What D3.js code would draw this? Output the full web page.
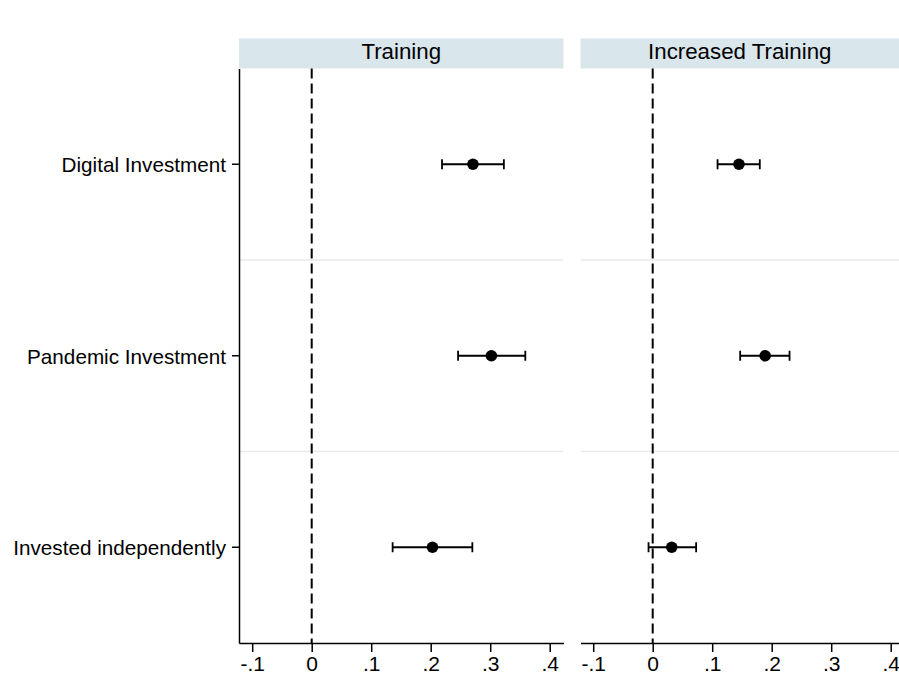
<!DOCTYPE html>
<html><head><meta charset="utf-8">
<script src="https://cdn.jsdelivr.net/npm/d3@7"></script>
<style>body{margin:0;background:#fff}svg{display:block}text{font-family:"Liberation Sans",Arial,sans-serif}</style>
</head><body>
<script>
const categories = ["Digital Investment","Pandemic Investment","Invested independently"];
const panels = ["Training","Increased Training"];
const trainingEst = [0.271, 0.302, 0.203];
const trainingLo  = [0.219, 0.246, 0.136];
const trainingHi  = [0.323, 0.359, 0.270];
const incEst = [0.145, 0.189, 0.032];
const incLo  = [0.109, 0.147, -0.007];
const incHi  = [0.180, 0.230, 0.073];
const xTicks = [-0.1, 0, 0.1, 0.2, 0.3, 0.4];
const xTickLabels = ["-.1","0",".1",".2",".3",".4"];

const W = 899, H = 677;
const FONT = '"Liberation Sans",Arial,sans-serif';
const svg = d3.select("body").append("svg").attr("width", W).attr("height", H);

const plotTop = 68.5, plotBottom = 643;
const y = d3.scaleBand().domain(categories).range([plotTop, plotBottom]);

const panelDefs = [
  {title: panels[0], x0: 239, x1: 563.5, zero: 311.7, est: trainingEst, lo: trainingLo, hi: trainingHi},
  {title: panels[1], x0: 580.5, x1: 899, zero: 652.7, est: incEst, lo: incLo, hi: incHi}
];
const pxPer = 595; // px per unit

panelDefs.forEach((p, pi) => {
  const x = d3.scaleLinear()
    .domain([(p.x0 - p.zero) / pxPer, (p.x1 - p.zero) / pxPer])
    .range([p.x0, p.x1]);
  const g = svg.append("g");
  // header strip
  g.append("rect").attr("x", p.x0).attr("y", 38.5).attr("width", p.x1 - p.x0).attr("height", 30)
    .attr("fill", "#d9e6eb");
  g.append("text").attr("x", (p.x0 + p.x1) / 2).attr("y", 59).attr("text-anchor", "middle")
    .attr("font-size", 22.3).attr("fill", "#000").attr("font-family", FONT).text(p.title);
  // gridlines between bands
  categories.slice(1).forEach(c => {
    g.append("line").attr("x1", p.x0).attr("x2", p.x1).attr("y1", y(c)).attr("y2", y(c))
      .attr("stroke", "#eaeaea").attr("stroke-width", 1.5);
  });
  // zero dashed line
  g.append("line").attr("x1", x(0)).attr("x2", x(0)).attr("y1", plotTop).attr("y2", plotBottom)
    .attr("stroke", "#000").attr("stroke-width", 2).attr("stroke-dasharray", "10,5");
  // x axis
  const ax = d3.axisBottom(x).tickValues(xTicks).tickFormat((d, i) => xTickLabels[i]).tickSize(9).tickSizeOuter(0).tickPadding(4);
  const axg = g.append("g").attr("transform", `translate(0,${plotBottom})`).call(ax);
  axg.select(".domain").attr("stroke", "#000").attr("stroke-width", 1.5);
  axg.selectAll(".tick line").attr("stroke", "#000").attr("stroke-width", 1.5);
  axg.selectAll(".tick text").attr("font-size", 21).attr("fill", "#000").attr("font-family", FONT);
  // y axis (left panel only)
  if (pi === 0) {
    const ay = d3.axisLeft(y).tickSize(7).tickSizeOuter(0).tickPadding(6);
    const ayg = g.append("g").attr("transform", `translate(${p.x0},0)`).call(ay);
    ayg.select(".domain").attr("stroke", "#000").attr("stroke-width", 1.5);
    ayg.selectAll(".tick line").attr("stroke", "#000").attr("stroke-width", 1.5);
    ayg.selectAll(".tick text").attr("font-size", 20.7).attr("fill", "#000").attr("font-family", FONT)
      .attr("dy", "0.38em");
  }
  // CIs
  categories.forEach((c, i) => {
    const cy = y(c) + y.bandwidth() / 2;
    g.append("line").attr("x1", x(p.lo[i])).attr("x2", x(p.hi[i])).attr("y1", cy).attr("y2", cy)
      .attr("stroke", "#000").attr("stroke-width", 1.8);
    [p.lo[i], p.hi[i]].forEach(v => {
      g.append("line").attr("x1", x(v)).attr("x2", x(v)).attr("y1", cy - 5).attr("y2", cy + 5)
        .attr("stroke", "#000").attr("stroke-width", 1.8);
    });
    g.append("circle").attr("cx", x(p.est[i])).attr("cy", cy).attr("r", 5.8).attr("fill", "#000");
  });
});
</script>
</body></html>
